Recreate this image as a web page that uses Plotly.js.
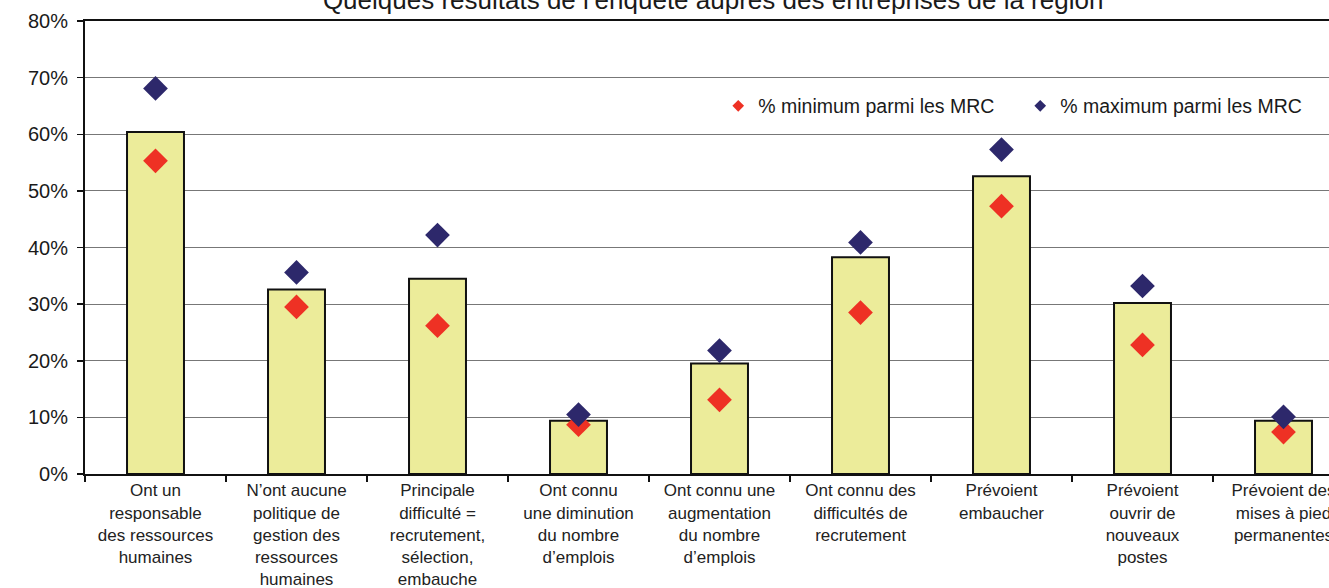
<!DOCTYPE html>
<html>
<head>
<meta charset="utf-8">
<script src="https://cdn.plot.ly/plotly-3.0.1.min.js"></script>
<style>
html, body { margin: 0; padding: 0; overflow: hidden; background: #fff; }
#chart { width: 1380px; height: 588px; }
</style>
</head>
<body>
<div id="chart"></div>
<script>
// ---- data ----
const chartTitle = "Quelques résultats de l’enquête auprès des entreprises de la région";
const categories = [
  "Ont un<br>responsable<br>des ressources<br>humaines",
  "N’ont aucune<br>politique de<br>gestion des<br>ressources<br>humaines",
  "Principale<br>difficulté =<br>recrutement,<br>sélection,<br>embauche",
  "Ont connu<br>une diminution<br>du nombre<br>d’emplois",
  "Ont connu une<br>augmentation<br>du nombre<br>d’emplois",
  "Ont connu des<br>difficultés de<br>recrutement",
  "Prévoient<br>embaucher",
  "Prévoient<br>ouvrir de<br>nouveaux<br>postes",
  "Prévoient des<br>mises à pied<br>permanentes"
];
const regionValues = [0.604, 0.326, 0.345, 0.094, 0.195, 0.383, 0.526, 0.302, 0.094];
const minValues    = [0.553, 0.295, 0.262, 0.087, 0.131, 0.285, 0.473, 0.228, 0.074];
const maxValues    = [0.681, 0.356, 0.422, 0.105, 0.218, 0.409, 0.573, 0.332, 0.101];
const minName = "% minimum parmi les MRC";
const maxName = "% maximum parmi les MRC";
const yTickVals = [0, 0.1, 0.2, 0.3, 0.4, 0.5, 0.6, 0.7, 0.8];

// ---- styles ----
const FONT = "Liberation Sans, Arial, sans-serif";
const RED = "#EE3124";
const NAVY = "#2D286B";
const BAR = "#ECEC9A";

const traces = [
  {
    type: "bar", x: categories, y: regionValues, showlegend: false,
    marker: { color: BAR, line: { color: "#111", width: 2 } },
    hoverinfo: "y"
  },
  {
    type: "scatter", mode: "markers", x: categories, y: minValues, name: minName,
    showlegend: false, legendgroup: "min",
    marker: { symbol: "diamond", size: 19, color: RED }
  },
  {
    type: "scatter", mode: "markers", x: categories, y: maxValues, name: maxName,
    showlegend: false, legendgroup: "max",
    marker: { symbol: "diamond", size: 19, color: NAVY }
  },
  // legend entries (small diamonds as in the reference)
  {
    type: "scatter", mode: "markers", x: [null], y: [null], name: minName,
    legendgroup: "min", marker: { symbol: "diamond", size: 9, color: RED }
  },
  {
    type: "scatter", mode: "markers", x: [null], y: [null], name: maxName,
    legendgroup: "max", marker: { symbol: "diamond", size: 9, color: NAVY }
  }
];

const layout = {
  width: 1380, height: 588,
  margin: { l: 85, r: 26, t: 21, b: 114 },
  paper_bgcolor: "#fff", plot_bgcolor: "#fff",
  font: { family: FONT, color: "#1a1a1a" },
  title: {
    text: chartTitle,
    font: { family: FONT, size: 26, color: "#1a1a1a" },
    xref: "paper", x: 0.495, xanchor: "center",
    yref: "container", y: 1, yanchor: "middle"
  },
  bargap: 0.596,
  showlegend: true,
  legend: {
    orientation: "h",
    x: 0.499, xanchor: "left",
    y: 0.812, yanchor: "middle",
    bgcolor: "rgba(0,0,0,0)",
    font: { family: FONT, size: 19.5, color: "#1a1a1a" },
    entrywidth: 257, entrywidthmode: "pixels",
    itemwidth: 30
  },
  xaxis: {
    type: "category",
    range: [-0.5, 8.5],
    tickson: "boundaries",
    ticks: "outside", ticklen: 6, tickwidth: 1.5, tickcolor: "#111",
    showline: true, linewidth: 2, linecolor: "#111", mirror: true,
    showgrid: false, zeroline: false,
    tickfont: { family: FONT, size: 17, color: "#222" },
    tickangle: 0,
    automargin: false,
    fixedrange: true
  },
  yaxis: {
    range: [0, 0.8],
    tickvals: yTickVals,
    tickformat: ".0%",
    ticks: "outside", ticklen: 6, tickwidth: 1.5, tickcolor: "#111",
    showline: true, linewidth: 2, linecolor: "#111",
    showgrid: true, gridcolor: "#777", gridwidth: 1,
    zeroline: false,
    tickfont: { family: FONT, size: 20, color: "#1a1a1a" },
    ticklabelstandoff: 5,
    automargin: false,
    fixedrange: true
  }
};

Plotly.newPlot("chart", traces, layout, { displayModeBar: false, staticPlot: true });
</script>
</body>
</html>
